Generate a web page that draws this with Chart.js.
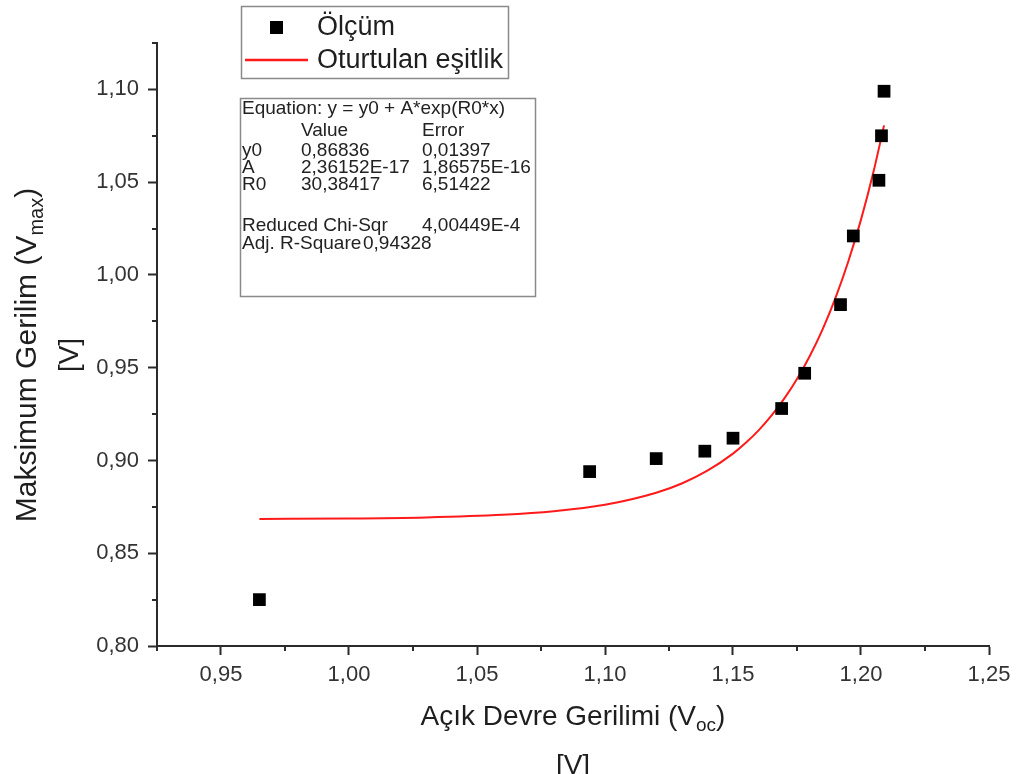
<!DOCTYPE html>
<html>
<head>
<meta charset="utf-8">
<script src="https://cdn.jsdelivr.net/npm/chart.js@4/dist/chart.umd.min.js"></script>
<style>
  body { margin: 0; background: #fff; }
  canvas { display: block; }
</style>
</head>
<body>
<canvas id="myChart" width="1019" height="774"></canvas>
<script>
// olcum noktalari
var olcumX = [0.965, 1.094, 1.120, 1.139, 1.150, 1.169, 1.178, 1.192, 1.197, 1.207, 1.208, 1.209];
var olcumY = [0.825, 0.894, 0.901, 0.905, 0.912, 0.928, 0.947, 0.984, 1.021, 1.051, 1.075, 1.099];

// egriden okunan degerler
var egriX = [0.965, 1.00, 1.03, 1.06, 1.08, 1.10, 1.12, 1.13, 1.14, 1.15, 1.155, 1.16, 1.165, 1.17, 1.175, 1.18, 1.185, 1.19, 1.195, 1.20, 1.205, 1.209];
var egriY = [0.8685, 0.8687, 0.8693, 0.8707, 0.8726, 0.8761, 0.8826, 0.8876, 0.8945, 0.9037, 0.9095, 0.9162, 0.9241, 0.9333, 0.9439, 0.9563, 0.9707, 0.9875, 1.0071, 1.0298, 1.0563, 1.0806];

var xTicks = [0.95, 1.00, 1.05, 1.10, 1.15, 1.20, 1.25];
var yTicks = [0.80, 0.85, 0.90, 0.95, 1.00, 1.05, 1.10];
var xMinor = [0.925, 0.975, 1.025, 1.075, 1.125, 1.175, 1.225];
var yMinor = [0.825, 0.875, 0.925, 0.975, 1.025, 1.075, 1.125];

var denklem = 'Equation: y = y0 + A*exp(R0*x)';
var basliklar = ['Value', 'Error'];
var parametreler = [
    ['y0', '0,86836', '0,01397'],
    ['A', '2,36152E-17', '1,86575E-16'],
    ['R0', '30,38417', '6,51422']
];
var chiSqr = '4,00449E-4';
var adjR2 = '0,94328';

var fontFam = '"Liberation Sans", Arial, sans-serif';

var points = [];
for (var i = 0; i < olcumX.length; i++) {
    points.push({ x: olcumX[i], y: olcumY[i] });
}
var curve = [];
for (var j = 0; j < egriX.length; j++) {
    curve.push({ x: egriX[j], y: egriY[j] });
}

function virgul(v) {
    return v.toFixed(2).replace('.', ',');
}

// alt indisli yazi
function drawRich(ctx, parts, cx, cy, rot) {
    ctx.save();
    ctx.translate(cx, cy);
    ctx.rotate(rot);
    ctx.textAlign = 'left';
    ctx.textBaseline = 'alphabetic';
    var w = 0;
    parts.forEach(function (p) {
        ctx.font = p.size + 'px ' + fontFam;
        w += ctx.measureText(p.text).width;
    });
    var x = -w / 2;
    parts.forEach(function (p) {
        ctx.font = p.size + 'px ' + fontFam;
        ctx.fillText(p.text, x, p.dy || 0);
        x += ctx.measureText(p.text).width;
    });
    ctx.restore();
}

var ekler = {
    id: 'ekler',
    afterDraw: function (chart) {
        var ctx = chart.ctx;
        var xs = chart.scales.x;
        var ys = chart.scales.y;
        var area = chart.chartArea;

        // ara cizgiler
        ctx.save();
        ctx.strokeStyle = '#2b2b2b';
        ctx.lineWidth = 2;
        ctx.beginPath();
        xMinor.forEach(function (v) {
            var px = Math.round(xs.getPixelForValue(v));
            ctx.moveTo(px, area.bottom);
            ctx.lineTo(px, area.bottom + 5);
        });
        yMinor.forEach(function (v) {
            var py = Math.round(ys.getPixelForValue(v));
            ctx.moveTo(area.left, py);
            ctx.lineTo(area.left - 5, py);
        });
        ctx.stroke();
        ctx.restore();

        ctx.fillStyle = '#1e1e1e';
        drawRich(ctx, [
            { text: 'Açık Devre Gerilimi (V', size: 28 },
            { text: 'oc', size: 19, dy: 6 },
            { text: ')', size: 28 }
        ], 573, 725, 0);
        drawRich(ctx, [{ text: '[V]', size: 28 }], 573, 774, 0);
        drawRich(ctx, [
            { text: 'Maksimum Gerilim (V', size: 30 },
            { text: 'max', size: 20, dy: 7 },
            { text: ')', size: 30 }
        ], 36, 355, -Math.PI / 2);
        drawRich(ctx, [{ text: '[V]', size: 28 }], 78, 355, -Math.PI / 2);

        // lejant
        var ds = chart.data.datasets;
        ctx.save();
        ctx.strokeStyle = '#8a8a8a';
        ctx.lineWidth = 1.5;
        ctx.strokeRect(241.5, 6.5, 267, 72);
        ctx.fillStyle = ds[0].backgroundColor;
        ctx.fillRect(270, 21, 13, 13);
        ctx.strokeStyle = ds[1].borderColor;
        ctx.lineWidth = 2.5;
        ctx.beginPath();
        ctx.moveTo(245, 60);
        ctx.lineTo(308, 60);
        ctx.stroke();
        ctx.fillStyle = '#1e1e1e';
        ctx.font = '27px ' + fontFam;
        ctx.textBaseline = 'middle';
        ctx.fillText(ds[0].label, 317, 28);
        ctx.fillText(ds[1].label, 317, 61);
        ctx.restore();

        // sonuc kutusu
        ctx.save();
        ctx.strokeStyle = '#8a8a8a';
        ctx.lineWidth = 1.5;
        ctx.strokeRect(240.5, 98.5, 295, 198);
        ctx.fillStyle = '#222';
        ctx.font = '19px ' + fontFam;
        ctx.textBaseline = 'middle';
        ctx.fillText(denklem, 242, 109);
        ctx.fillText(basliklar[0], 301, 131);
        ctx.fillText(basliklar[1], 422, 131);
        var satirY = [151, 168, 185];
        parametreler.forEach(function (r, k) {
            ctx.fillText(r[0], 242, satirY[k]);
            ctx.fillText(r[1], 301, satirY[k]);
            ctx.fillText(r[2], 422, satirY[k]);
        });
        ctx.fillText('Reduced Chi-Sqr', 242, 226);
        ctx.fillText(chiSqr, 422, 226);
        ctx.fillText('Adj. R-Square', 242, 244);
        ctx.fillText(adjR2, 363, 244);
        ctx.restore();
    }
};

const ctx = document.getElementById('myChart');

new Chart(ctx, {
    type: 'scatter',
    data: {
        datasets: [{
            label: 'Ölçüm',
            data: points,
            backgroundColor: '#000000',
            borderColor: '#000000',
            pointStyle: 'rect',
            pointRadius: 9,
            pointBorderWidth: 0,
            showLine: false
        },
        {
            label: 'Oturtulan eşitlik',
            type: 'line',
            data: curve,
            borderColor: '#ff1a1a',
            backgroundColor: '#ff1a1a',
            borderWidth: 2,
            pointRadius: 0,
            cubicInterpolationMode: 'monotone',
            fill: false
        }]
    },
    options: {
        responsive: false,
        animation: false,
        layout: {
            padding: { left: 0, right: 30, top: 43, bottom: 0 }
        },
        plugins: {
            legend: { display: false },
            tooltip: { enabled: false }
        },
        scales: {
            x: {
                type: 'linear',
                min: 0.925,
                max: 1.25,
                afterBuildTicks: function (s) {
                    s.ticks = xTicks.map(function (v) { return { value: v }; });
                },
                afterFit: function (s) { s.height = 128; },
                grid: {
                    drawOnChartArea: false,
                    tickLength: 9,
                    tickWidth: 2,
                    tickColor: '#2b2b2b'
                },
                border: { color: '#2b2b2b', width: 2 },
                ticks: {
                    padding: 7,
                    color: '#333',
                    font: { family: fontFam, size: 22 },
                    callback: function (v) { return virgul(v); }
                }
            },
            y: {
                type: 'linear',
                min: 0.80,
                max: 1.125,
                afterBuildTicks: function (s) {
                    s.ticks = yTicks.map(function (v) { return { value: v }; });
                },
                afterFit: function (s) { s.width = 157; },
                grid: {
                    drawOnChartArea: false,
                    tickLength: 9,
                    tickWidth: 2,
                    tickColor: '#2b2b2b'
                },
                border: { color: '#2b2b2b', width: 2 },
                ticks: {
                    padding: 9,
                    color: '#333',
                    font: { family: fontFam, size: 22 },
                    callback: function (v) { return virgul(v); }
                }
            }
        }
    },
    plugins: [ekler]
});
</script>
</body>
</html>
